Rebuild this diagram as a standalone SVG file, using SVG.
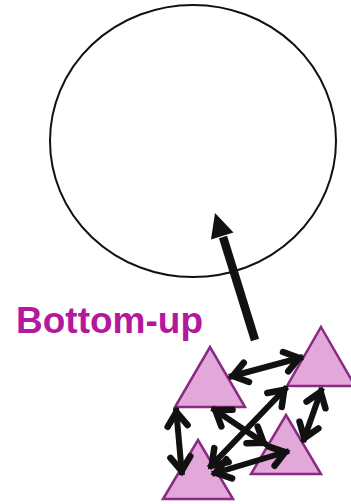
<svg xmlns="http://www.w3.org/2000/svg" width="351" height="504" viewBox="0 0 351 504">
  <style>
    .tri { fill: #E3A8DA; stroke: #8A2A84; stroke-width: 2.5; stroke-linejoin: miter; }
    .dbl { stroke: #111; stroke-width: 6; fill: none; marker-start: url(#vh); marker-end: url(#vh); }
    .label { font-family: "Liberation Sans", Arial, sans-serif; font-weight: bold; font-size: 37px; fill: #B3189E; }
  </style>
  <defs>
    <marker id="vh" markerUnits="userSpaceOnUse" orient="auto-start-reverse" refX="0" refY="0" markerWidth="40" markerHeight="40" overflow="visible">
      <path d="M -18,-10 L -4,0 L -18,10" fill="none" stroke="#111" stroke-width="6.5" stroke-linejoin="miter" stroke-linecap="round"/>
    </marker>
  </defs>
  <rect width="351" height="504" fill="#fff"/>
  <g id="circle">
    <ellipse cx="193" cy="141" rx="143" ry="136" fill="none" stroke="#111" stroke-width="2"/>
  </g>
  <g id="label">
    <text class="label" x="16" y="333">Bottom-up</text>
  </g>
  <g id="t1"><polygon class="tri" points="210,347 245,407 175,407"/></g>
  <g id="t2"><polygon class="tri" points="321,327 355,386 287,386"/></g>
  <g id="t3"><polygon class="tri" points="286,415 321,474 251,474"/></g>
  <g id="t4"><polygon class="tri" points="198,440 233,499 163,499"/></g>
  <g id="connectors">
    <line x1="255" y1="340" x2="223" y2="237" stroke="#111" stroke-width="8.5"/>
    <polygon points="215,213 233.5,232.5 211,239.5" fill="#111"/>
    <line class="dbl" x1="229" y1="377" x2="303" y2="357"/>
    <line class="dbl" x1="176" y1="408" x2="182" y2="475"/>
    <line class="dbl" x1="212" y1="408" x2="267" y2="445"/>
    <line class="dbl" x1="287" y1="387" x2="209" y2="468"/>
    <line class="dbl" x1="322" y1="388" x2="303" y2="442"/>
    <line class="dbl" x1="212" y1="474" x2="289" y2="451"/>
  </g>
</svg>
